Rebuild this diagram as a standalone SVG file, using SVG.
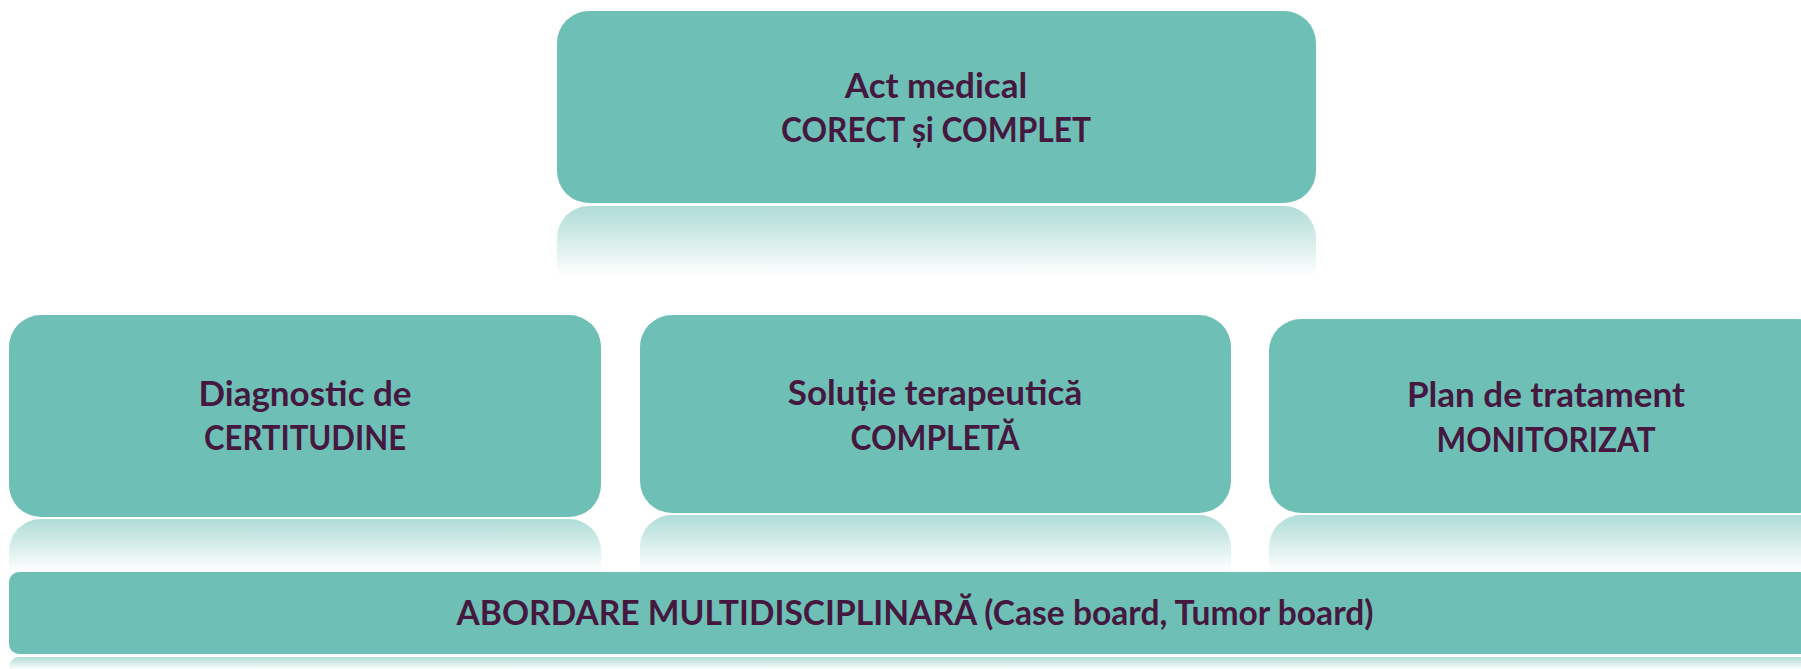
<svg xmlns="http://www.w3.org/2000/svg" width="1801" height="669" viewBox="0 0 1801 669">
<style>
.box{fill:#6ec0b6}
.t{font-family:Lato,"Open Sans","Noto Sans",sans-serif;font-weight:bold;font-size:35px;fill:#45193f;text-anchor:middle}
</style>
<defs>
<linearGradient id="refl" x1="0" y1="0" x2="0" y2="1">
<stop offset="0" stop-color="#6ec0b6" stop-opacity="0.55"/>
<stop offset="1" stop-color="#6ec0b6" stop-opacity="0.02"/>
</linearGradient>
</defs>
<rect width="1801" height="669" fill="#ffffff"/>
<g id="n-top">
<path d="M557 274 V238 A32 32 0 0 1 589 206 H1284 A32 32 0 0 1 1316 238 V274 Z" fill="url(#refl)"/>
<rect class="box" x="557" y="11" width="759" height="192" rx="32"/>
<text class="t" x="936" y="98">Act medical</text>
<text class="t" x="936" y="142" textLength="310" lengthAdjust="spacingAndGlyphs">CORECT și COMPLET</text>
</g>
<g id="n-diag">
<path d="M9 570 V551 A32 32 0 0 1 41 519 H569 A32 32 0 0 1 601 551 V570 Z" fill="url(#refl)"/>
<rect class="box" x="9" y="315" width="592" height="202" rx="32"/>
<text class="t" x="305" y="406">Diagnostic de</text>
<text class="t" x="305" y="450" textLength="202" lengthAdjust="spacingAndGlyphs">CERTITUDINE</text>
</g>
<g id="n-sol">
<path d="M640 570 V547 A32 32 0 0 1 672 515 H1199 A32 32 0 0 1 1231 547 V570 Z" fill="url(#refl)"/>
<rect class="box" x="640" y="315" width="591" height="198" rx="32"/>
<text class="t" x="935" y="405">Soluție terapeutică</text>
<text class="t" x="935" y="450" textLength="169" lengthAdjust="spacingAndGlyphs">COMPLETĂ</text>
</g>
<g id="n-plan">
<path d="M1269 570 V547 A32 32 0 0 1 1301 515 H1829 V570 Z" fill="url(#refl)"/>
<rect class="box" x="1269" y="319" width="560" height="194" rx="32"/>
<text class="t" x="1546" y="407">Plan de tratament</text>
<text class="t" x="1546" y="452" textLength="219" lengthAdjust="spacingAndGlyphs">MONITORIZAT</text>
</g>
<g id="n-bar">
<path d="M9 669 V667 A10 10 0 0 1 19 657 H1801 V669 Z" fill="url(#refl)"/>
<rect class="box" x="9" y="572" width="1820" height="82" rx="10"/>
<text class="t" x="915" y="625" textLength="917" lengthAdjust="spacingAndGlyphs">ABORDARE MULTIDISCIPLINARĂ (Case board, Tumor board)</text>
</g>
<g id="connectors"/>
</svg>
